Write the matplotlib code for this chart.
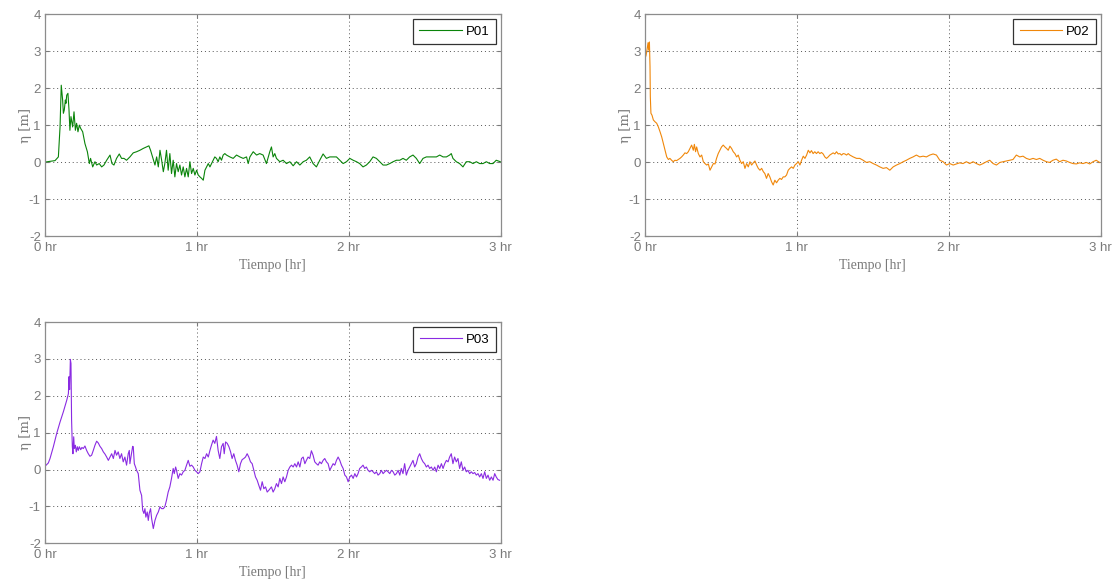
import matplotlib
matplotlib.use('Agg')
import matplotlib.pyplot as plt

plt.rcParams['axes.unicode_minus'] = False

# P01 time (hr) and water level (m)
p01_t = [0.000, 0.066, 0.088, 0.099, 0.107, 0.116, 0.121, 0.127, 0.134, 0.138, 0.143, 0.151, 0.158, 0.164,
         0.171, 0.182, 0.191, 0.200, 0.208, 0.217, 0.226, 0.235, 0.248, 0.263, 0.279, 0.292, 0.300, 0.314,
         0.329, 0.340, 0.357, 0.373, 0.388, 0.406, 0.428, 0.441, 0.454, 0.471, 0.489, 0.504, 0.520, 0.537,
         0.559, 0.581, 0.603, 0.625, 0.647, 0.669, 0.684, 0.695, 0.708, 0.724, 0.735, 0.746, 0.757, 0.768,
         0.779, 0.789, 0.800, 0.811, 0.822, 0.833, 0.844, 0.855, 0.866, 0.877, 0.888, 0.899, 0.910, 0.921,
         0.932, 0.943, 0.954, 0.965, 0.976, 0.987, 0.998, 1.009, 1.020, 1.031, 1.042, 1.053, 1.064, 1.075,
         1.086, 1.107, 1.118, 1.129, 1.140, 1.151, 1.162, 1.173, 1.184, 1.195, 1.217, 1.239, 1.261, 1.283,
         1.305, 1.327, 1.338, 1.349, 1.371, 1.393, 1.414, 1.436, 1.458, 1.480, 1.491, 1.502, 1.513, 1.524,
         1.546, 1.568, 1.590, 1.612, 1.634, 1.656, 1.678, 1.700, 1.721, 1.743, 1.765, 1.787, 1.809, 1.831,
         1.853, 1.875, 1.897, 1.919, 1.941, 1.963, 1.985, 2.007, 2.029, 2.051, 2.072, 2.094, 2.116, 2.138,
         2.160, 2.182, 2.204, 2.226, 2.248, 2.270, 2.292, 2.314, 2.336, 2.357, 2.379, 2.401, 2.423, 2.445,
         2.467, 2.489, 2.511, 2.533, 2.555, 2.577, 2.599, 2.621, 2.643, 2.664, 2.675, 2.686, 2.708, 2.730,
         2.752, 2.774, 2.796, 2.818, 2.840, 2.862, 2.884, 2.906, 2.928, 2.950, 2.971, 2.998]
p01_eta = [0.00, 0.04, 0.14, 0.95, 2.08, 1.68, 1.32, 1.41, 1.68, 1.59, 1.81, 1.86, 1.41, 0.86,
           1.23, 0.95, 1.36, 0.86, 1.05, 0.82, 1.00, 0.91, 0.82, 0.50, 0.28, -0.04, 0.10, -0.13,
           0.01, -0.08, -0.04, -0.13, -0.08, 0.05, 0.19, -0.04, -0.08, 0.10, 0.22, 0.10, 0.10, 0.05,
           0.14, 0.25, 0.28, 0.32, 0.37, 0.41, 0.44, 0.32, 0.14, -0.08, 0.14, -0.13, 0.32, 0.05,
           -0.26, -0.04, 0.32, -0.22, 0.23, -0.31, 0.05, -0.40, -0.04, -0.26, -0.08, -0.35, -0.13, -0.40,
           -0.17, -0.40, 0.01, -0.31, -0.17, -0.35, -0.22, -0.35, -0.40, -0.44, -0.49, -0.22, -0.13, -0.04,
           -0.13, 0.05, 0.14, 0.10, 0.01, 0.14, 0.05, 0.19, 0.23, 0.19, 0.14, 0.10, 0.19, 0.14,
           0.10, 0.14, -0.04, 0.14, 0.28, 0.19, 0.23, 0.19, -0.04, 0.28, 0.41, 0.14, 0.23, 0.10,
           0.01, 0.05, -0.04, 0.01, -0.10, 0.01, -0.08, 0.01, 0.05, 0.14, -0.04, -0.13, 0.05, 0.22,
           0.10, 0.14, 0.14, 0.14, 0.05, -0.04, 0.01, 0.10, 0.05, 0.01, -0.04, -0.13, -0.08, 0.01,
           0.14, 0.10, 0.01, -0.08, -0.08, -0.04, 0.01, 0.05, 0.05, 0.10, 0.05, 0.14, 0.19, 0.10,
           -0.04, 0.10, 0.14, 0.14, 0.14, 0.14, 0.19, 0.14, 0.14, 0.19, 0.23, 0.10, 0.01, -0.04,
           -0.13, 0.01, 0.01, -0.04, 0.01, -0.04, -0.04, 0.01, -0.04, -0.04, 0.05, 0.01]

p02_t = [0.000, 0.007, 0.013, 0.020, 0.024, 0.029, 0.033, 0.035, 0.039, 0.046, 0.055, 0.066, 0.077, 0.088,
         0.099, 0.110, 0.121, 0.132, 0.143, 0.154, 0.164, 0.175, 0.186, 0.197, 0.208, 0.219, 0.230, 0.241,
         0.252, 0.263, 0.274, 0.285, 0.296, 0.307, 0.318, 0.325, 0.333, 0.340, 0.351, 0.362, 0.373, 0.384,
         0.395, 0.406, 0.417, 0.428, 0.439, 0.450, 0.461, 0.471, 0.482, 0.493, 0.504, 0.515, 0.526, 0.537,
         0.548, 0.559, 0.570, 0.581, 0.592, 0.603, 0.614, 0.625, 0.636, 0.647, 0.658, 0.669, 0.680, 0.691,
         0.702, 0.713, 0.724, 0.735, 0.746, 0.757, 0.768, 0.779, 0.789, 0.800, 0.811, 0.822, 0.833, 0.844,
         0.855, 0.866, 0.877, 0.888, 0.899, 0.910, 0.921, 0.932, 0.943, 0.954, 0.965, 0.976, 0.987, 0.998,
         1.009, 1.020, 1.031, 1.042, 1.053, 1.064, 1.075, 1.086, 1.096, 1.107, 1.118, 1.129, 1.140, 1.151,
         1.162, 1.173, 1.184, 1.195, 1.206, 1.217, 1.228, 1.239, 1.250, 1.261, 1.272, 1.283, 1.294, 1.305,
         1.316, 1.327, 1.338, 1.349, 1.371, 1.393, 1.414, 1.436, 1.458, 1.480, 1.502, 1.524, 1.546, 1.568,
         1.590, 1.612, 1.634, 1.656, 1.678, 1.700, 1.721, 1.743, 1.765, 1.787, 1.809, 1.831, 1.853, 1.875,
         1.897, 1.919, 1.941, 1.963, 1.985, 2.007, 2.029, 2.051, 2.072, 2.094, 2.116, 2.138, 2.160, 2.182,
         2.204, 2.226, 2.248, 2.270, 2.292, 2.314, 2.336, 2.357, 2.379, 2.401, 2.423, 2.445, 2.467, 2.489,
         2.511, 2.533, 2.555, 2.577, 2.599, 2.621, 2.643, 2.664, 2.686, 2.708, 2.730, 2.752, 2.774, 2.796,
         2.818, 2.840, 2.862, 2.884, 2.906, 2.928, 2.950, 2.971, 2.993]
p02_eta = [2.80, 2.89, 3.03, 3.23, 3.03, 3.25, 2.58, 1.77, 1.32, 1.27, 1.14, 1.09, 1.05, 0.95,
           0.82, 0.68, 0.50, 0.32, 0.14, 0.07, 0.10, 0.05, 0.01, 0.05, 0.04, 0.07, 0.10, 0.14,
           0.19, 0.25, 0.23, 0.28, 0.37, 0.46, 0.32, 0.48, 0.28, 0.41, 0.23, 0.14, 0.19, 0.01,
           -0.04, -0.08, -0.05, -0.22, -0.13, -0.04, -0.05, 0.10, 0.23, 0.32, 0.41, 0.46, 0.41, 0.37,
           0.32, 0.43, 0.37, 0.28, 0.23, 0.14, 0.19, 0.05, -0.04, 0.01, -0.17, -0.04, -0.13, 0.01,
           -0.08, -0.02, 0.03, -0.08, -0.17, -0.22, -0.17, -0.26, -0.31, -0.44, -0.31, -0.40, -0.53, -0.62,
           -0.49, -0.56, -0.49, -0.44, -0.47, -0.40, -0.40, -0.35, -0.22, -0.17, -0.13, -0.17, -0.08, -0.04,
           0.01, -0.08, 0.05, 0.16, 0.10, 0.19, 0.32, 0.25, 0.31, 0.23, 0.28, 0.23, 0.28, 0.23,
           0.26, 0.22, 0.14, 0.10, 0.14, 0.19, 0.22, 0.25, 0.22, 0.28, 0.22, 0.23, 0.19, 0.23,
           0.22, 0.19, 0.23, 0.19, 0.14, 0.10, 0.10, 0.05, -0.01, 0.01, -0.04, -0.08, -0.13, -0.17,
           -0.15, -0.22, -0.13, -0.08, -0.04, 0.01, 0.05, 0.10, 0.14, 0.19, 0.14, 0.16, 0.14, 0.19,
           0.22, 0.19, 0.05, 0.01, -0.08, -0.04, -0.08, -0.05, -0.02, -0.04, 0.01, -0.04, 0.01, -0.04,
           -0.08, -0.04, 0.01, 0.05, -0.04, -0.08, -0.01, 0.01, 0.03, 0.05, 0.07, 0.19, 0.14, 0.16,
           0.10, 0.07, 0.10, 0.07, 0.10, 0.05, 0.01, -0.01, 0.05, 0.08, 0.01, 0.05, 0.03, -0.01,
           -0.04, -0.05, -0.02, -0.04, -0.01, -0.05, 0.01, 0.05, -0.01]

p03_t = [0.000, 0.022, 0.033, 0.055, 0.077, 0.099, 0.121, 0.143, 0.154, 0.158, 0.162, 0.167, 0.171, 0.175,
         0.180, 0.184, 0.189, 0.193, 0.200, 0.206, 0.213, 0.219, 0.226, 0.235, 0.243, 0.252, 0.263, 0.274,
         0.285, 0.296, 0.307, 0.318, 0.329, 0.340, 0.351, 0.362, 0.373, 0.384, 0.395, 0.406, 0.417, 0.428,
         0.439, 0.450, 0.461, 0.471, 0.482, 0.493, 0.504, 0.515, 0.526, 0.537, 0.548, 0.555, 0.559, 0.566,
         0.570, 0.577, 0.581, 0.588, 0.596, 0.603, 0.614, 0.625, 0.636, 0.643, 0.651, 0.658, 0.664, 0.673,
         0.680, 0.686, 0.695, 0.702, 0.713, 0.724, 0.735, 0.746, 0.757, 0.768, 0.779, 0.789, 0.800, 0.811,
         0.822, 0.833, 0.844, 0.851, 0.860, 0.866, 0.877, 0.888, 0.899, 0.910, 0.921, 0.932, 0.943, 0.954,
         0.965, 0.976, 0.987, 0.998, 1.009, 1.020, 1.031, 1.042, 1.053, 1.064, 1.075, 1.086, 1.096, 1.107,
         1.118, 1.129, 1.140, 1.151, 1.162, 1.173, 1.180, 1.189, 1.200, 1.211, 1.222, 1.232, 1.243, 1.254,
         1.265, 1.276, 1.287, 1.298, 1.309, 1.320, 1.331, 1.342, 1.353, 1.364, 1.375, 1.386, 1.397, 1.408,
         1.419, 1.430, 1.441, 1.452, 1.463, 1.474, 1.491, 1.502, 1.513, 1.524, 1.535, 1.546, 1.557, 1.568,
         1.579, 1.590, 1.601, 1.612, 1.623, 1.634, 1.645, 1.656, 1.667, 1.678, 1.689, 1.700, 1.711, 1.721,
         1.732, 1.743, 1.754, 1.765, 1.776, 1.787, 1.798, 1.809, 1.820, 1.831, 1.842, 1.853, 1.864, 1.875,
         1.886, 1.897, 1.908, 1.919, 1.930, 1.941, 1.952, 1.963, 1.974, 1.985, 1.996, 2.007, 2.018, 2.029,
         2.040, 2.051, 2.061, 2.072, 2.083, 2.094, 2.105, 2.116, 2.127, 2.138, 2.149, 2.160, 2.171, 2.182,
         2.193, 2.204, 2.215, 2.226, 2.237, 2.248, 2.259, 2.270, 2.281, 2.292, 2.303, 2.314, 2.325, 2.336,
         2.346, 2.357, 2.368, 2.379, 2.390, 2.401, 2.412, 2.423, 2.434, 2.445, 2.456, 2.467, 2.478, 2.489,
         2.500, 2.511, 2.522, 2.533, 2.544, 2.555, 2.566, 2.577, 2.588, 2.599, 2.610, 2.621, 2.632, 2.643,
         2.654, 2.664, 2.675, 2.686, 2.697, 2.708, 2.719, 2.730, 2.741, 2.752, 2.763, 2.774, 2.785, 2.796,
         2.807, 2.818, 2.829, 2.840, 2.851, 2.862, 2.873, 2.884, 2.895, 2.906, 2.917, 2.928, 2.939, 2.950,
         2.961, 2.971, 2.982, 2.993]
p03_eta = [0.09, 0.18, 0.30, 0.62, 0.98, 1.29, 1.57, 1.88, 2.06, 2.52, 2.17, 2.99, 2.88, 1.34,
           0.62, 0.43, 0.89, 0.57, 0.66, 0.48, 0.62, 0.52, 0.62, 0.54, 0.60, 0.57, 0.64, 0.52,
           0.43, 0.36, 0.39, 0.52, 0.66, 0.77, 0.72, 0.63, 0.57, 0.48, 0.42, 0.34, 0.25, 0.34,
           0.43, 0.30, 0.52, 0.39, 0.48, 0.30, 0.43, 0.21, 0.34, 0.12, 0.43, 0.52, 0.16, 0.34,
           0.43, 0.63, 0.62, 0.16, 0.07, -0.02, -0.11, -0.56, -0.70, -1.10, -1.19, -1.06, -1.29, -1.15,
           -1.38, -1.19, -1.06, -1.33, -1.60, -1.38, -1.24, -1.15, -1.01, -1.06, -1.06, -1.01, -0.83, -0.61,
           -0.47, -0.24, 0.03, -0.11, 0.07, -0.02, -0.24, -0.11, -0.15, -0.06, -0.02, 0.12, 0.25, 0.09,
           0.12, 0.07, -0.02, -0.06, -0.11, -0.06, 0.16, 0.34, 0.30, 0.43, 0.34, 0.52, 0.66, 0.80,
           0.71, 0.90, 0.52, 0.30, 0.62, 0.71, 0.43, 0.75, 0.71, 0.62, 0.48, 0.30, 0.43, 0.25,
           0.12, -0.06, 0.16, 0.27, 0.30, 0.34, 0.43, 0.34, 0.21, 0.16, -0.02, -0.20, -0.29, -0.43,
           -0.56, -0.33, -0.52, -0.47, -0.61, -0.56, -0.47, -0.61, -0.52, -0.38, -0.47, -0.24, -0.38, -0.20,
           -0.33, -0.20, -0.02, 0.07, 0.12, 0.07, 0.16, 0.07, 0.21, 0.07, 0.30, 0.34, 0.16, 0.25,
           0.34, 0.30, 0.51, 0.39, 0.21, 0.16, 0.12, 0.21, 0.16, 0.25, 0.30, 0.21, 0.16, -0.02,
           0.07, 0.16, 0.12, 0.25, 0.34, 0.25, 0.12, 0.03, -0.15, -0.20, -0.33, -0.20, -0.15, -0.24,
           -0.11, -0.20, -0.11, 0.03, 0.07, 0.12, 0.03, 0.07, -0.02, -0.06, -0.02, -0.06, -0.11, -0.06,
           -0.15, -0.11, -0.02, -0.11, -0.06, -0.02, -0.06, -0.11, -0.02, -0.06, -0.15, -0.11, -0.02, -0.15,
           0.03, -0.11, 0.16, -0.15, -0.02, 0.07, 0.16, 0.25, 0.07, 0.16, 0.34, 0.43, 0.30, 0.21,
           0.16, 0.07, 0.12, 0.03, 0.07, -0.02, 0.07, -0.06, 0.12, 0.03, 0.16, 0.03, 0.16, 0.25,
           0.21, 0.34, 0.43, 0.16, 0.34, 0.21, 0.30, 0.03, 0.21, -0.02, 0.07, -0.06, -0.02, -0.11,
           -0.06, -0.11, -0.08, -0.15, -0.11, -0.20, -0.11, -0.24, -0.06, -0.24, -0.15, -0.29, -0.20, -0.29,
           -0.11, -0.20, -0.27, -0.29]

x_ticks = [0, 1, 2, 3]
x_labels = ['0 hr', '1 hr', '2 hr', '3 hr']
y_ticks = [-2, -1, 0, 1, 2, 3, 4]

series = [('P01', p01_t, p01_eta, '#0a840a'),
          ('P02', p02_t, p02_eta, '#f0870a'),
          ('P03', p03_t, p03_eta, '#8a2be2')]

# axes boxes in figure fractions: left, bottom, width, height
boxes = [[0.0404, 0.5945, 0.409, 0.381],
         [0.579, 0.5945, 0.409, 0.381],
         [0.0404, 0.0665, 0.409, 0.380]]

grey = '#7a7a7a'

fig = plt.figure(figsize=(11.14, 5.82), dpi=100)

for (name, t, eta, color), box in zip(series, boxes):
    ax = fig.add_axes(box)
    ax.plot(t, eta, color=color, lw=0.8, label=name)
    ax.set_xlim(0, 3)
    ax.set_ylim(-2, 4)
    ax.set_xticks(x_ticks)
    ax.set_xticklabels(x_labels)
    ax.set_yticks(y_ticks)
    ax.grid(True, linestyle=(0, (1, 3)), color='#555555', lw=0.7)
    ax.tick_params(axis='y', pad=3)
    ax.tick_params(axis='x', pad=4)
    ax.tick_params(direction='in', length=3, top=True, right=True, colors=grey,
                   labelsize=9.5)
    for lab in ax.get_xticklabels() + ax.get_yticklabels():
        lab.set_family('Liberation Sans')
        lab.set_color(grey)
    for sp in ax.spines.values():
        sp.set_color('#8c8c8c')
        sp.set_linewidth(0.9)
    ax.set_xlabel('Tiempo [hr]', family='Liberation Serif', fontsize=10, color=grey, labelpad=4)
    ax.set_ylabel('η [m]', family='DejaVu Serif', fontsize=9.5, color=grey, labelpad=-2)
    leg = ax.legend(loc='upper right', frameon=True, fancybox=False,
                    handlelength=3.2, handletextpad=0.3, borderpad=0.5,
                    borderaxespad=0.35, prop={'family': 'Liberation Sans', 'size': 9.5})
    leg.get_frame().set_edgecolor('black')
    leg.get_frame().set_linewidth(0.9)

fig.savefig('out.png', dpi=100)
